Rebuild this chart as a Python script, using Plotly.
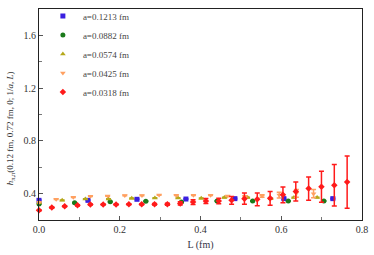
import plotly.graph_objects as go

# Lattice spacings (fm)
spacings = [0.1213, 0.0882, 0.0574, 0.0425, 0.0318]
labels = ["a=0.1213 fm", "a=0.0882 fm", "a=0.0574 fm", "a=0.0425 fm", "a=0.0318 fm"]
colors = ["#3a1fe0", "#1a7a1a", "#b5a81a", "#ffa060", "#ff1a1a"]
symbols = ["square", "circle", "triangle-up", "triangle-down", "diamond"]

# h values (index n -> L = n * a)
h_a1213 = [0.349, 0.349, 0.357, 0.359, 0.362, 0.362, 0.362]
h_a0882 = [0.322, 0.331, 0.339, 0.342, 0.336, 0.344, 0.344, 0.344, 0.344]
h_a0574 = [0.330, 0.349, 0.359, 0.359, 0.364, 0.367, 0.367, 0.364, 0.370,
           0.370, 0.362, 0.370, 0.370]
h_a0425 = [0.335, 0.357, 0.372, 0.380, 0.382, 0.385, 0.385, 0.389, 0.387,
           0.387, 0.387, 0.382, 0.378, 0.382, 0.389, 0.402, 0.400]
h_a0318 = [0.273, 0.294, 0.304, 0.311, 0.317, 0.317, 0.317, 0.319, 0.319,
           0.319, 0.319, 0.326, 0.336, 0.344, 0.344, 0.349, 0.362, 0.357,
           0.364, 0.391, 0.417, 0.438, 0.452, 0.463, 0.488]

# error bars
e_a1213 = [0.002] * 7
e_a0882 = [0.002] * 9
e_a0574 = [0.002] * 13
e_a0425 = [0.002] * 12 + [0.006, 0.01, 0.022, 0.03, 0.032]
e_a0318 = [0.004, 0.004, 0.004, 0.004, 0.004, 0.004, 0.004, 0.004, 0.004,
           0.006, 0.008, 0.012, 0.018, 0.019, 0.020, 0.029, 0.043, 0.048,
           0.053, 0.060, 0.072, 0.088, 0.117, 0.157, 0.198]

series = [h_a1213, h_a0882, h_a0574, h_a0425, h_a0318]
errors = [e_a1213, e_a0882, e_a0574, e_a0425, e_a0318]

fig = go.Figure()
for a, lab, col, sym, hv, ev in zip(spacings, labels, colors, symbols, series, errors):
    L = [round(n * a, 5) for n in range(len(hv))]
    fig.add_trace(go.Scatter(
        x=L, y=hv, mode="markers", name=lab,
        marker=dict(color=col, symbol=sym, size=5, line=dict(width=0)),
        error_y=dict(type="data", array=ev, visible=True, color=col,
                     thickness=1.5, width=2.5),
        cliponaxis=False,
    ))

font_fam = "Liberation Serif, Times New Roman, serif"

fig.update_layout(
    width=374, height=255,
    margin=dict(l=39, r=12, t=9, b=35, autoexpand=False),
    paper_bgcolor="white", plot_bgcolor="white",
    font=dict(family=font_fam, size=10, color="#333"),
    showlegend=True,
    legend=dict(x=0.012, y=1.035, xanchor="left", yanchor="top",
                bgcolor="rgba(0,0,0,0)", font=dict(size=9, color="#444"),
                itemsizing="trace", tracegroupgap=0),
    xaxis=dict(range=[0, 0.8], tickvals=[0, 0.2, 0.4, 0.6, 0.8],
               ticktext=["0.0", "0.2", "0.4", "0.6", "0.8"], automargin=False,
               showline=True, linecolor="#222", linewidth=1.2, mirror=True,
               ticks="inside", ticklen=4, tickcolor="#555",
               minor=dict(dtick=0.1, ticks="inside", ticklen=3, tickcolor="#777"),
               showgrid=False, zeroline=False,
               tickfont=dict(size=10, color="#333"),
               title=dict(text="L (fm)", font=dict(size=10, color="#334"), standoff=6)),
    yaxis=dict(range=[0.2, 1.8], tickvals=[0.4, 0.8, 1.2, 1.6],
               ticktext=["0.4", "0.8", "1.2", "1.6"], automargin=False,
               showline=True, linecolor="#222", linewidth=1.2, mirror=True,
               ticks="inside", ticklen=4, tickcolor="#555",
               minor=dict(dtick=0.2, ticks="inside", ticklen=3, tickcolor="#777"),
               showgrid=False, zeroline=False,
               tickfont=dict(size=10, color="#333")),
    annotations=[dict(
        text="<i>h</i><sub>π,π</sub>(0.12 fm, 0.72 fm, 0; 1/<i>a</i>, <i>L</i>)",
        xref="paper", yref="paper", x=-0.09, y=0.435, textangle=-90,
        showarrow=False, font=dict(size=9, color="#333"),
        xanchor="center", yanchor="middle")],
)

fig.write_html("out.html", config={"displayModeBar": False},
               post_script="document.body.style.margin='0';document.body.style.padding='0';")
